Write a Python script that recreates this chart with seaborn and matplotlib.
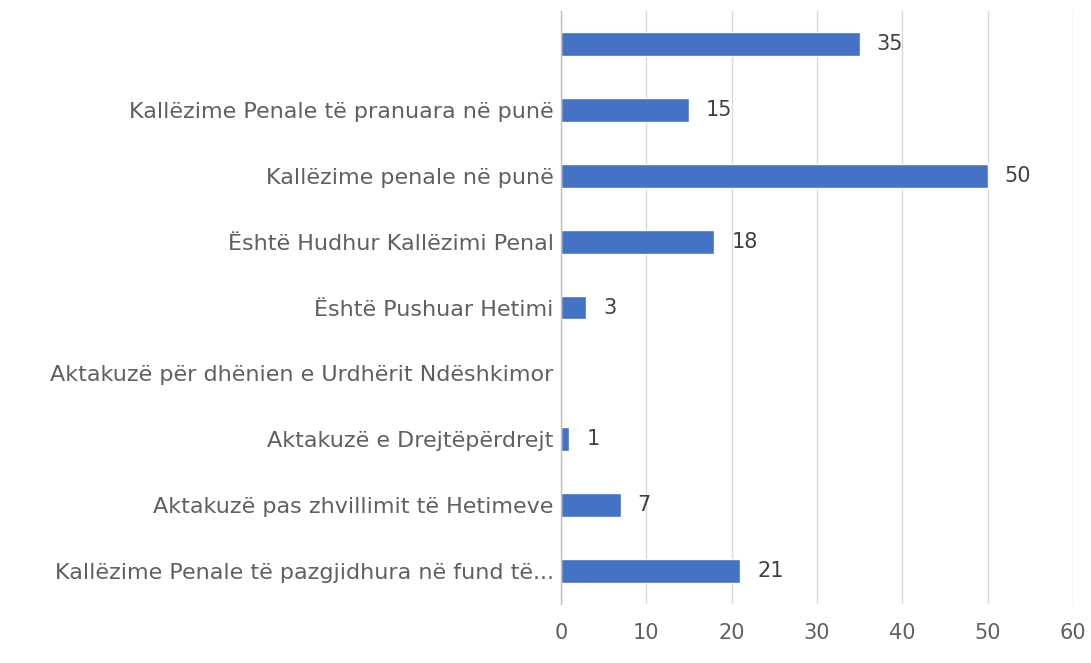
import matplotlib
matplotlib.use("Agg")
import matplotlib.pyplot as plt
import seaborn as sns
import pandas as pd

categories = [
    "",
    "Kallëzime Penale të pranuara në punë",
    "Kallëzime penale në punë",
    "Është Hudhur Kallëzimi Penal",
    "Është Pushuar Hetimi",
    "Aktakuzë për dhënien e Urdhërit Ndëshkimor",
    "Aktakuzë e Drejtëpërdrejt",
    "Aktakuzë pas zhvillimit të Hetimeve",
    "Kallëzime Penale të pazgjidhura në fund të...",
]
values = [35, 15, 50, 18, 3, 0, 1, 7, 21]
x_ticks = [0, 10, 20, 30, 40, 50, 60]

sns.set_theme(style="white")
plt.rcParams['font.family'] = ['DejaVu Sans']

df = pd.DataFrame({"cat": [f"c{i}" for i in range(len(categories))], "val": values})

fig = plt.figure(figsize=(10.91, 6.63), dpi=100)
ax = fig.add_axes([0.514, 0.089, 0.4695, 0.894])
sns.barplot(data=df, y="cat", x="val", orient="h", color="#4472C4",
            saturation=1, width=0.36, ax=ax)

ax.set_xlim(0, 60)
ax.set_xticks(x_ticks)
ax.set_xticklabels([str(t) for t in x_ticks], color="#606060", fontsize=15)
ax.set_yticklabels(categories, color="#606060", fontsize=16)
ax.set_xlabel("")
ax.set_ylabel("")
ax.tick_params(axis="both", length=0)
ax.tick_params(axis="x", pad=14)
ax.tick_params(axis="y", pad=5)
ax.grid(axis="x", color="#d9d9d9", linewidth=1)
ax.set_axisbelow(True)
for s in ["top", "right", "bottom"]:
    ax.spines[s].set_visible(False)
ax.spines["left"].set_color("#bfbfbf")
ax.spines["left"].set_linewidth(1)

for i, v in enumerate(values):
    if v > 0:
        ax.text(v + 2.0, i, str(v), va="center", ha="left", fontsize=15, color="#404040")

fig.savefig("out.png", dpi=100, facecolor="white")
